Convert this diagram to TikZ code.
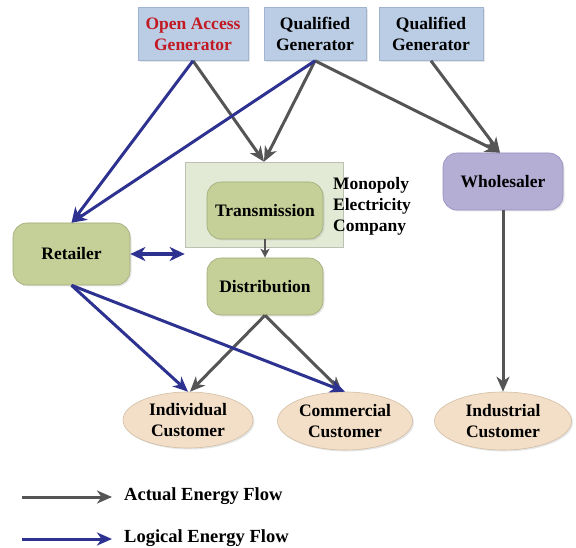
\documentclass[tikz,border=0pt]{standalone}
\usepackage{fontspec}
\setmainfont{Liberation Serif}
\usetikzlibrary{arrows.meta,shapes.geometric,shadows}
\definecolor{genblue}{RGB}{186,205,229}
\definecolor{genborder}{RGB}{160,180,210}
\definecolor{oared}{RGB}{195,25,35}
\definecolor{greenfill}{RGB}{197,207,152}
\definecolor{greenborder}{RGB}{160,170,120}
\definecolor{monofill}{RGB}{226,233,212}
\definecolor{monoborder}{RGB}{190,192,180}
\definecolor{wholefill}{RGB}{180,174,213}
\definecolor{wholeborder}{RGB}{150,142,190}
\definecolor{peach}{RGB}{243,223,199}
\definecolor{peachborder}{RGB}{210,190,165}
\definecolor{actgray}{RGB}{85,85,85}
\definecolor{logblue}{RGB}{45,50,145}
\tikzset{
  txt/.style={font=\bfseries\fontsize{17.5}{21}\selectfont, align=center, text=black},
  legtxt/.style={font=\bfseries\fontsize{18.5}{22}\selectfont, text=black},
  genbox/.style={txt, draw=genborder, fill=genblue, line width=0.6pt, inner sep=0pt,
    drop shadow={opacity=0.2, shadow xshift=1.5pt, shadow yshift=-1.5pt}},
  greenbox/.style={txt, draw=greenborder, fill=greenfill, line width=0.6pt, rounded corners=14pt, inner sep=0pt,
    drop shadow={opacity=0.2, shadow xshift=1.5pt, shadow yshift=-1.5pt}},
  wholebox/.style={txt, draw=wholeborder, fill=wholefill, line width=0.6pt, rounded corners=14pt, inner sep=0pt,
    drop shadow={opacity=0.2, shadow xshift=1.5pt, shadow yshift=-1.5pt}},
  custell/.style={txt, ellipse, draw=peachborder, fill=peach, line width=0.6pt, inner sep=0pt,
    drop shadow={opacity=0.2, shadow xshift=1.5pt, shadow yshift=-1.5pt}},
  tip/.style={-{Stealth[length=15pt,width=13pt,inset=4.5pt]}},
  actual/.style={draw=actgray, line width=3pt, tip},
  logical/.style={draw=logblue, line width=3pt, tip},
}
\begin{document}
\begin{tikzpicture}[x=1pt,y=-1pt]
\useasboundingbox (0,0) rectangle (576,548);
% generators
\node[genbox, minimum width=110pt, minimum height=53pt, text=oared] (oag) at (193,34) {Open Access\\Generator};
\node[genbox, minimum width=102pt, minimum height=53pt] (qg1) at (315,34) {Qualified\\Generator};
\node[genbox, minimum width=104pt, minimum height=53pt] (qg2) at (431,34) {Qualified\\Generator};
% monopoly company
\node[draw=monoborder, fill=monofill, line width=0.6pt, minimum width=158pt, minimum height=85pt, inner sep=0pt] (mono) at (264,204.5) {};
\node[txt, align=left, anchor=west, inner sep=0pt] (monolbl) at (333,206) {Monopoly\\Electricity\\Company};
\node[greenbox, minimum width=116pt, minimum height=57pt] (trans) at (265,210.5) {Transmission};
\node[greenbox, minimum width=116pt, minimum height=57pt] (dist) at (265,286.5) {Distribution};
\node[greenbox, minimum width=117pt, minimum height=62pt] (ret) at (71.5,254) {Retailer};
\node[wholebox, minimum width=120pt, minimum height=57pt] (whol) at (503,181.5) {Wholesaler};
% customers
\node[custell, minimum width=130pt, minimum height=56pt] (ind) at (188,420) {Individual\\Customer};
\node[custell, minimum width=135pt, minimum height=58pt] (com) at (345,421) {Commercial\\Customer};
\node[custell, minimum width=137pt, minimum height=58pt] (indus) at (503,421) {Industrial\\Customer};
% coordinates
\coordinate (whin) at ([xshift=-3pt]whol.north);
\coordinate (dblend) at (ret.east -| mono.west);
% actual flows
\draw[actual] (oag.south) -- (mono.north);
\draw[actual] (qg1.south) -- (mono.north);
\draw[actual] (qg1.south) -- (whin);
\draw[actual] (qg2.south) -- (whin);
\draw[draw=actgray, line width=1.6pt, -{Stealth[length=9pt,width=9pt,inset=2.5pt]}] (trans.south) -- (dist.north);
\draw[actual] (dist.south) -- ([xshift=2pt]ind.north);
\draw[actual] (dist.south) -- ([xshift=-3pt]com.north);
\draw[actual] (whol.south) -- (indus.north);
% logical flows
\draw[logical] (oag.south) -- (ret.north);
\draw[logical] (qg1.south) -- (ret.north);
\draw[logical] (ret.south) -- (ind.north);
\draw[logical] (ret.south) -- (com.north);
\draw[draw=logblue, line width=3.2pt, {Stealth[length=15pt,width=14pt,inset=4.5pt]}-{Stealth[length=15pt,width=14pt,inset=4.5pt]}] (ret.east) -- (dblend);
% legend
\coordinate (la1) at (22,497);
\coordinate (la2) at (112,497);
\coordinate (lb1) at (22,539);
\coordinate (lb2) at (112,539);
\draw[actual] (la1) -- (la2);
\draw[logical] (lb1) -- (lb2);
\node[legtxt, anchor=west, inner sep=0pt] (lega) at (124,496) {Actual Energy Flow};
\node[legtxt, anchor=west, inner sep=0pt] (legb) at (124,538) {Logical Energy Flow};
\end{tikzpicture}
\end{document}
